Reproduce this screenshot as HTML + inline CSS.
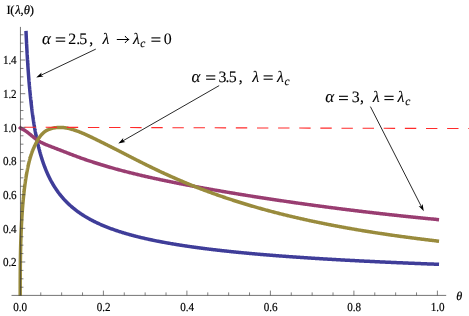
<!DOCTYPE html>
<html><head><meta charset="utf-8"><title>plot</title>
<style>
html,body{margin:0;padding:0;background:#fff;}
svg{display:block;will-change:transform;font-family:"Liberation Serif",serif;text-rendering:geometricPrecision;}
text{stroke:#000;stroke-width:inherit;}
svg{stroke-width:0.2px;}
.t{font-size:12.2px;fill:#000;letter-spacing:-0.15px;}
.i{font-style:italic;}
</style></head><body>
<svg width="469" height="316" viewBox="0 0 469 316">
<rect width="469" height="316" fill="#fff"/>
<clipPath id="cp"><rect x="11.5" y="26" width="436" height="269.75"/></clipPath>
<g fill="none" stroke-width="3.5" stroke-linejoin="round" stroke-linecap="square" clip-path="url(#cp)">
<path d="M26.06,32.60 L26.07,33.02 L26.09,33.44 L26.11,33.86 L26.13,34.28 L26.15,34.70 L26.17,35.12 L26.19,35.54 L26.21,35.96 L26.23,36.38 L26.25,36.80 L26.27,37.22 L26.29,37.63 L26.31,38.05 L26.33,38.47 L26.35,38.89 L26.37,39.31 L26.39,39.73 L26.41,40.15 L26.43,40.57 L26.45,40.99 L26.47,41.41 L26.49,41.83 L26.51,42.25 L26.53,42.67 L26.55,43.09 L26.57,43.51 L26.59,43.93 L26.62,44.35 L26.64,44.77 L26.66,45.19 L26.68,45.61 L26.70,46.03 L26.72,46.45 L26.75,46.86 L26.77,47.28 L26.79,47.70 L26.81,48.12 L26.84,48.54 L26.86,48.96 L26.88,49.38 L26.90,49.80 L26.93,50.22 L26.95,50.64 L26.97,51.06 L27.00,51.48 L27.02,51.90 L27.04,52.32 L27.07,52.74 L27.09,53.16 L27.12,53.58 L27.14,54.00 L27.16,54.42 L27.19,54.84 L27.21,55.26 L27.24,55.68 L27.26,56.09 L27.29,56.51 L27.31,56.93 L27.34,57.35 L27.36,57.77 L27.39,58.19 L27.41,58.61 L27.44,59.03 L27.46,59.45 L27.49,59.87 L27.52,60.29 L27.54,60.71 L27.57,61.13 L27.60,61.55 L27.62,61.97 L27.65,62.39 L27.68,62.81 L27.70,63.23 L27.73,63.65 L27.76,64.07 L27.78,64.49 L27.81,64.91 L27.84,65.32 L27.87,65.74 L27.90,66.16 L27.92,66.58 L27.95,67.00 L27.98,67.42 L28.01,67.84 L28.04,68.26 L28.07,68.68 L28.10,69.10 L28.13,69.52 L28.16,69.94 L28.19,70.36 L28.22,70.78 L28.25,71.20 L28.28,71.62 L28.31,72.04 L28.34,72.46 L28.37,72.88 L28.40,73.30 L28.43,73.72 L28.46,74.14 L28.49,74.55 L28.52,74.97 L28.56,75.39 L28.59,75.81 L28.62,76.23 L28.65,76.65 L28.68,77.07 L28.72,77.49 L28.75,77.91 L28.78,78.33 L28.82,78.75 L28.85,79.17 L28.88,79.59 L28.92,80.01 L28.95,80.43 L28.99,80.85 L29.02,81.27 L29.05,81.69 L29.09,82.11 L29.12,82.53 L29.16,82.95 L29.20,83.37 L29.23,83.78 L29.27,84.20 L29.30,84.62 L29.34,85.04 L29.38,85.46 L29.41,85.88 L29.45,86.30 L29.49,86.72 L29.52,87.14 L29.56,87.56 L29.60,87.98 L29.64,88.40 L29.68,88.82 L29.71,89.24 L29.75,89.66 L29.79,90.08 L29.83,90.50 L29.87,90.92 L29.91,91.34 L29.95,91.76 L29.99,92.18 L30.03,92.60 L30.07,93.02 L30.11,93.43 L30.16,93.85 L30.20,94.27 L30.24,94.69 L30.28,95.11 L30.32,95.53 L30.37,95.95 L30.41,96.37 L30.45,96.79 L30.50,97.21 L30.54,97.63 L30.58,98.05 L30.63,98.47 L30.67,98.89 L30.72,99.31 L30.76,99.73 L30.81,100.15 L30.85,100.57 L30.90,100.99 L30.95,101.41 L30.99,101.83 L31.04,102.25 L31.09,102.66 L31.13,103.08 L31.18,103.50 L31.23,103.92 L31.28,104.34 L31.33,104.76 L31.38,105.18 L31.43,105.60 L31.48,106.02 L31.53,106.44 L31.58,106.86 L31.63,107.28 L31.68,107.70 L31.73,108.12 L31.78,108.54 L31.83,108.96 L31.89,109.38 L31.94,109.80 L31.99,110.22 L32.05,110.64 L32.10,111.06 L32.15,111.48 L32.21,111.89 L32.26,112.31 L32.32,112.73 L32.38,113.15 L32.43,113.57 L32.49,113.99 L32.55,114.41 L32.60,114.83 L32.66,115.25 L32.72,115.67 L32.78,116.09 L32.84,116.51 L32.90,116.93 L32.96,117.35 L33.02,117.77 L33.08,118.19 L33.14,118.61 L33.20,119.03 L33.26,119.45 L33.32,119.87 L33.39,120.29 L33.45,120.71 L33.52,121.12 L33.58,121.54 L33.64,121.96 L33.71,122.38 L33.78,122.80 L33.84,123.22 L33.91,123.64 L33.98,124.06 L34.04,124.48 L34.11,124.90 L34.18,125.32 L34.25,125.74 L34.32,126.16 L34.39,126.58 L34.46,127.00 L34.53,127.42 L34.60,127.84 L34.68,128.26 L34.75,128.68 L34.82,129.10 L34.90,129.52 L34.97,129.94 L35.05,130.35 L35.12,130.77 L35.20,131.19 L35.28,131.61 L35.35,132.03 L35.43,132.45 L35.51,132.87 L35.59,133.29 L35.67,133.71 L35.75,134.13 L35.83,134.55 L35.91,134.97 L36.00,135.39 L36.08,135.81 L36.16,136.23 L36.25,136.65 L36.33,137.07 L36.42,137.49 L36.50,137.91 L36.59,138.33 L36.68,138.75 L36.77,139.17 L36.86,139.58 L36.95,140.00 L37.04,140.42 L37.13,140.84 L37.22,141.26 L37.31,141.68 L37.41,142.10 L37.50,142.52 L37.60,142.94 L37.69,143.36 L37.79,143.78 L37.89,144.20 L37.99,144.62 L38.09,145.04 L38.19,145.46 L38.29,145.88 L38.39,146.30 L38.49,146.72 L38.60,147.14 L38.70,147.56 L38.81,147.98 L38.91,148.40 L39.02,148.82 L39.13,149.23 L39.24,149.65 L39.35,150.07 L39.46,150.49 L39.57,150.91 L39.68,151.33 L39.80,151.75 L39.91,152.17 L40.03,152.59 L40.15,153.01 L40.26,153.43 L40.38,153.85 L40.50,154.27 L40.62,154.69 L40.75,155.11 L40.87,155.53 L41.00,155.95 L41.12,156.37 L41.25,156.79 L41.38,157.21 L41.50,157.63 L41.64,158.05 L41.77,158.46 L41.90,158.88 L42.03,159.30 L42.17,159.72 L42.31,160.14 L42.44,160.56 L42.58,160.98 L42.72,161.40 L42.86,161.82 L43.01,162.24 L43.15,162.66 L43.30,163.08 L43.44,163.50 L43.59,163.92 L43.74,164.34 L43.89,164.76 L44.05,165.18 L44.20,165.60 L44.36,166.02 L44.52,166.44 L44.67,166.86 L44.83,167.28 L45.00,167.69 L45.16,168.11 L45.33,168.53 L45.49,168.95 L45.66,169.37 L45.83,169.79 L46.00,170.21 L46.18,170.63 L46.35,171.05 L46.53,171.47 L46.71,171.89 L46.89,172.31 L47.07,172.73 L47.26,173.15 L47.45,173.57 L47.63,173.99 L47.82,174.41 L48.02,174.83 L48.21,175.25 L48.41,175.67 L48.61,176.09 L48.81,176.51 L49.01,176.92 L49.22,177.34 L49.42,177.76 L49.63,178.18 L49.85,178.60 L50.06,179.02 L50.28,179.44 L50.49,179.86 L50.72,180.28 L50.94,180.70 L51.17,181.12 L51.39,181.54 L51.63,181.96 L51.86,182.38 L52.10,182.80 L52.33,183.22 L52.58,183.64 L52.82,184.06 L53.07,184.48 L53.32,184.90 L53.57,185.32 L53.83,185.74 L54.09,186.15 L54.35,186.57 L54.61,186.99 L54.88,187.41 L55.15,187.83 L55.43,188.25 L55.70,188.67 L55.98,189.09 L56.27,189.51 L56.56,189.93 L56.85,190.35 L57.14,190.77 L57.44,191.19 L57.74,191.61 L58.05,192.03 L58.35,192.45 L58.67,192.87 L58.98,193.29 L59.31,193.71 L59.63,194.13 L59.96,194.55 L60.29,194.97 L60.63,195.38 L60.97,195.80 L61.32,196.22 L61.67,196.64 L62.02,197.06 L62.38,197.48 L62.74,197.90 L63.11,198.32 L63.48,198.74 L63.86,199.16 L64.25,199.58 L64.63,200.00 L65.26,200.66 L65.88,201.31 L66.50,201.94 L67.12,202.56 L67.75,203.17 L68.37,203.77 L68.99,204.36 L69.61,204.93 L70.23,205.50 L70.86,206.05 L71.48,206.59 L72.10,207.13 L72.72,207.65 L73.34,208.17 L73.97,208.67 L74.59,209.17 L75.21,209.66 L75.83,210.14 L76.46,210.61 L77.08,211.08 L77.70,211.54 L78.32,211.99 L78.94,212.43 L79.57,212.86 L80.19,213.29 L80.81,213.72 L81.43,214.13 L82.05,214.54 L82.68,214.95 L83.30,215.34 L83.92,215.74 L84.54,216.12 L85.17,216.50 L85.79,216.88 L86.41,217.25 L87.03,217.61 L87.65,217.97 L88.28,218.33 L88.90,218.68 L89.52,219.02 L90.14,219.36 L90.76,219.70 L91.39,220.03 L92.01,220.36 L92.63,220.68 L93.25,221.00 L93.88,221.31 L94.50,221.62 L95.12,221.93 L95.74,222.23 L96.36,222.53 L96.99,222.83 L97.61,223.12 L98.23,223.41 L98.85,223.69 L99.47,223.98 L100.10,224.26 L100.72,224.53 L101.34,224.80 L101.96,225.07 L102.59,225.34 L103.21,225.60 L103.83,225.86 L104.45,226.12 L105.07,226.37 L105.70,226.62 L106.32,226.87 L106.94,227.12 L107.56,227.36 L108.18,227.60 L108.81,227.84 L109.43,228.08 L110.05,228.31 L110.67,228.54 L111.30,228.77 L111.92,229.00 L112.54,229.22 L113.16,229.44 L113.78,229.66 L114.41,229.88 L115.03,230.10 L115.65,230.31 L116.27,230.52 L116.89,230.73 L117.52,230.94 L118.14,231.14 L118.76,231.34 L119.38,231.55 L120.01,231.75 L120.63,231.94 L121.25,232.14 L121.87,232.33 L122.49,232.52 L123.12,232.71 L123.74,232.90 L124.36,233.09 L124.98,233.28 L125.60,233.46 L126.23,233.64 L126.85,233.82 L127.47,234.00 L128.09,234.18 L128.72,234.35 L129.34,234.53 L129.96,234.70 L130.58,234.87 L131.20,235.04 L131.83,235.21 L132.45,235.38 L133.07,235.54 L133.69,235.71 L134.31,235.87 L134.94,236.03 L135.56,236.19 L136.18,236.35 L136.80,236.51 L137.43,236.66 L138.05,236.82 L138.67,236.97 L139.29,237.13 L139.91,237.28 L140.54,237.43 L141.16,237.58 L141.78,237.73 L142.40,237.87 L143.02,238.02 L143.65,238.16 L144.27,238.31 L144.89,238.45 L145.51,238.59 L146.14,238.73 L146.76,238.87 L147.38,239.01 L148.00,239.15 L148.62,239.28 L149.25,239.42 L149.87,239.55 L150.49,239.69 L151.11,239.82 L151.74,239.95 L152.36,240.08 L152.98,240.21 L153.60,240.34 L154.22,240.47 L154.85,240.60 L155.47,240.72 L156.09,240.85 L156.71,240.97 L157.33,241.10 L157.96,241.22 L158.58,241.34 L159.20,241.46 L159.82,241.58 L160.45,241.70 L161.07,241.82 L161.69,241.94 L162.31,242.05 L162.93,242.17 L163.56,242.29 L164.18,242.40 L164.80,242.52 L165.42,242.63 L166.04,242.74 L166.67,242.85 L167.29,242.97 L167.91,243.08 L168.53,243.19 L169.16,243.29 L169.78,243.40 L170.40,243.51 L171.02,243.62 L171.64,243.72 L172.27,243.83 L172.89,243.94 L173.51,244.04 L174.13,244.14 L174.75,244.25 L175.38,244.35 L176.00,244.45 L176.62,244.55 L177.24,244.65 L177.87,244.75 L178.49,244.85 L179.11,244.95 L179.73,245.05 L180.35,245.15 L180.98,245.25 L181.60,245.34 L182.22,245.44 L182.84,245.54 L183.46,245.63 L184.09,245.73 L184.71,245.82 L185.33,245.91 L185.95,246.01 L186.58,246.10 L187.20,246.19 L187.82,246.28 L188.44,246.37 L189.06,246.46 L189.69,246.55 L190.31,246.64 L190.93,246.73 L191.55,246.82 L192.17,246.91 L192.80,246.99 L193.42,247.08 L194.04,247.17 L194.66,247.25 L195.29,247.34 L195.91,247.43 L196.53,247.51 L197.15,247.59 L197.77,247.68 L198.40,247.76 L199.02,247.84 L199.64,247.93 L200.26,248.01 L200.88,248.09 L201.51,248.17 L202.13,248.25 L202.75,248.33 L203.37,248.41 L204.00,248.49 L204.62,248.57 L205.24,248.65 L205.86,248.73 L206.48,248.81 L207.11,248.88 L207.73,248.96 L208.35,249.04 L208.97,249.12 L209.59,249.19 L210.22,249.27 L210.84,249.34 L211.46,249.42 L212.08,249.49 L212.71,249.57 L213.33,249.64 L213.95,249.71 L214.57,249.79 L215.19,249.86 L215.82,249.93 L216.44,250.00 L217.06,250.08 L217.68,250.15 L218.30,250.22 L218.93,250.29 L219.55,250.36 L220.17,250.43 L220.79,250.50 L221.42,250.57 L222.04,250.64 L222.66,250.71 L223.28,250.78 L223.90,250.84 L224.53,250.91 L225.15,250.98 L225.77,251.05 L226.39,251.11 L227.01,251.18 L227.64,251.25 L228.26,251.31 L228.88,251.38 L229.50,251.44 L230.13,251.51 L230.75,251.57 L231.37,251.64 L231.99,251.70 L232.61,251.77 L233.24,251.83 L233.86,251.89 L234.48,251.96 L235.10,252.02 L235.72,252.08 L236.35,252.15 L236.97,252.21 L237.59,252.27 L238.21,252.33 L238.84,252.39 L239.46,252.45 L240.08,252.51 L240.70,252.57 L241.32,252.63 L241.95,252.69 L242.57,252.75 L243.19,252.81 L243.81,252.87 L244.43,252.93 L245.06,252.99 L245.68,253.05 L246.30,253.11 L246.92,253.17 L247.55,253.22 L248.17,253.28 L248.79,253.34 L249.41,253.40 L250.03,253.45 L250.66,253.51 L251.28,253.57 L251.90,253.62 L252.52,253.68 L253.14,253.73 L253.77,253.79 L254.39,253.84 L255.01,253.90 L255.63,253.95 L256.26,254.01 L256.88,254.06 L257.50,254.12 L258.12,254.17 L258.74,254.23 L259.37,254.28 L259.99,254.33 L260.61,254.39 L261.23,254.44 L261.85,254.49 L262.48,254.54 L263.10,254.60 L263.72,254.65 L264.34,254.70 L264.97,254.75 L265.59,254.80 L266.21,254.86 L266.83,254.91 L267.45,254.96 L268.08,255.01 L268.70,255.06 L269.32,255.11 L269.94,255.16 L270.56,255.21 L271.19,255.26 L271.81,255.31 L272.43,255.36 L273.05,255.41 L273.68,255.46 L274.30,255.51 L274.92,255.55 L275.54,255.60 L276.16,255.65 L276.79,255.70 L277.41,255.75 L278.03,255.80 L278.65,255.84 L279.27,255.89 L279.90,255.94 L280.52,255.99 L281.14,256.03 L281.76,256.08 L282.39,256.13 L283.01,256.17 L283.63,256.22 L284.25,256.27 L284.87,256.31 L285.50,256.36 L286.12,256.40 L286.74,256.45 L287.36,256.49 L287.98,256.54 L288.61,256.58 L289.23,256.63 L289.85,256.67 L290.47,256.72 L291.10,256.76 L291.72,256.81 L292.34,256.85 L292.96,256.90 L293.58,256.94 L294.21,256.98 L294.83,257.03 L295.45,257.07 L296.07,257.11 L296.70,257.16 L297.32,257.20 L297.94,257.24 L298.56,257.28 L299.18,257.33 L299.81,257.37 L300.43,257.41 L301.05,257.45 L301.67,257.50 L302.29,257.54 L302.92,257.58 L303.54,257.62 L304.16,257.66 L304.78,257.70 L305.41,257.74 L306.03,257.79 L306.65,257.83 L307.27,257.87 L307.89,257.91 L308.52,257.95 L309.14,257.99 L309.76,258.03 L310.38,258.07 L311.00,258.11 L311.63,258.15 L312.25,258.19 L312.87,258.23 L313.49,258.27 L314.12,258.31 L314.74,258.35 L315.36,258.38 L315.98,258.42 L316.60,258.46 L317.23,258.50 L317.85,258.54 L318.47,258.58 L319.09,258.62 L319.71,258.65 L320.34,258.69 L320.96,258.73 L321.58,258.77 L322.20,258.81 L322.83,258.84 L323.45,258.88 L324.07,258.92 L324.69,258.96 L325.31,258.99 L325.94,259.03 L326.56,259.07 L327.18,259.10 L327.80,259.14 L328.42,259.18 L329.05,259.21 L329.67,259.25 L330.29,259.29 L330.91,259.32 L331.54,259.36 L332.16,259.40 L332.78,259.43 L333.40,259.47 L334.02,259.50 L334.65,259.54 L335.27,259.57 L335.89,259.61 L336.51,259.64 L337.13,259.68 L337.76,259.71 L338.38,259.75 L339.00,259.78 L339.62,259.82 L340.25,259.85 L340.87,259.89 L341.49,259.92 L342.11,259.96 L342.73,259.99 L343.36,260.02 L343.98,260.06 L344.60,260.09 L345.22,260.13 L345.84,260.16 L346.47,260.19 L347.09,260.23 L347.71,260.26 L348.33,260.29 L348.96,260.33 L349.58,260.36 L350.20,260.39 L350.82,260.43 L351.44,260.46 L352.07,260.49 L352.69,260.52 L353.31,260.56 L353.93,260.59 L354.55,260.62 L355.18,260.65 L355.80,260.69 L356.42,260.72 L357.04,260.75 L357.67,260.78 L358.29,260.81 L358.91,260.85 L359.53,260.88 L360.15,260.91 L360.78,260.94 L361.40,260.97 L362.02,261.00 L362.64,261.04 L363.26,261.07 L363.89,261.10 L364.51,261.13 L365.13,261.16 L365.75,261.19 L366.38,261.22 L367.00,261.25 L367.62,261.28 L368.24,261.31 L368.86,261.34 L369.49,261.37 L370.11,261.40 L370.73,261.43 L371.35,261.46 L371.97,261.49 L372.60,261.52 L373.22,261.55 L373.84,261.58 L374.46,261.61 L375.09,261.64 L375.71,261.67 L376.33,261.70 L376.95,261.73 L377.57,261.76 L378.20,261.79 L378.82,261.82 L379.44,261.85 L380.06,261.88 L380.68,261.91 L381.31,261.93 L381.93,261.96 L382.55,261.99 L383.17,262.02 L383.80,262.05 L384.42,262.08 L385.04,262.11 L385.66,262.13 L386.28,262.16 L386.91,262.19 L387.53,262.22 L388.15,262.25 L388.77,262.28 L389.39,262.30 L390.02,262.33 L390.64,262.36 L391.26,262.39 L391.88,262.41 L392.51,262.44 L393.13,262.47 L393.75,262.50 L394.37,262.52 L394.99,262.55 L395.62,262.58 L396.24,262.61 L396.86,262.63 L397.48,262.66 L398.10,262.69 L398.73,262.71 L399.35,262.74 L399.97,262.77 L400.59,262.79 L401.22,262.82 L401.84,262.85 L402.46,262.87 L403.08,262.90 L403.70,262.93 L404.33,262.95 L404.95,262.98 L405.57,263.01 L406.19,263.03 L406.81,263.06 L407.44,263.08 L408.06,263.11 L408.68,263.14 L409.30,263.16 L409.93,263.19 L410.55,263.21 L411.17,263.24 L411.79,263.26 L412.41,263.29 L413.04,263.31 L413.66,263.34 L414.28,263.37 L414.90,263.39 L415.52,263.42 L416.15,263.44 L416.77,263.47 L417.39,263.49 L418.01,263.52 L418.64,263.54 L419.26,263.57 L419.88,263.59 L420.50,263.62 L421.12,263.64 L421.75,263.66 L422.37,263.69 L422.99,263.71 L423.61,263.74 L424.23,263.76 L424.86,263.79 L425.48,263.81 L426.10,263.84 L426.72,263.86 L427.35,263.88 L427.97,263.91 L428.59,263.93 L429.21,263.96 L429.83,263.98 L430.46,264.00 L431.08,264.03 L431.70,264.05 L432.32,264.07 L432.94,264.10 L433.57,264.12 L434.19,264.15 L434.81,264.17 L435.43,264.19 L436.06,264.22 L436.68,264.24 L437.30,264.26" stroke="#3f3d99"/>
<path d="M20.40,127.99 L20.40,127.99 L20.40,127.99 L20.40,127.99 L20.40,127.99 L20.41,128.00 L20.45,128.04 L20.49,128.07 L20.54,128.11 L20.58,128.14 L20.62,128.17 L20.66,128.20 L20.70,128.22 L20.75,128.25 L20.79,128.28 L20.83,128.30 L20.87,128.33 L20.91,128.35 L20.95,128.38 L21.00,128.40 L21.04,128.43 L21.08,128.45 L21.12,128.47 L21.16,128.49 L21.21,128.52 L21.25,128.54 L21.29,128.56 L21.33,128.58 L21.37,128.61 L21.42,128.63 L21.46,128.65 L21.50,128.67 L21.54,128.69 L21.58,128.71 L21.63,128.73 L21.67,128.75 L21.71,128.78 L21.75,128.80 L21.79,128.82 L21.84,128.84 L21.88,128.86 L21.92,128.88 L21.96,128.90 L22.00,128.92 L22.05,128.94 L22.09,128.96 L22.13,128.98 L22.17,129.00 L22.21,129.03 L22.26,129.05 L22.30,129.07 L22.34,129.09 L22.38,129.11 L22.42,129.13 L22.46,129.15 L22.51,129.17 L22.55,129.19 L22.59,129.21 L22.63,129.24 L22.67,129.26 L22.72,129.28 L22.76,129.30 L22.80,129.32 L22.84,129.34 L22.88,129.36 L22.93,129.39 L22.97,129.41 L23.01,129.43 L23.05,129.45 L23.09,129.47 L23.14,129.50 L23.18,129.52 L23.22,129.54 L23.26,129.56 L23.30,129.59 L23.35,129.61 L23.39,129.63 L23.43,129.65 L23.47,129.68 L23.51,129.70 L23.56,129.72 L23.60,129.74 L23.64,129.77 L23.68,129.79 L23.72,129.81 L23.76,129.84 L23.81,129.86 L23.85,129.88 L23.89,129.91 L23.93,129.93 L23.97,129.96 L24.02,129.98 L24.06,130.00 L24.10,130.03 L24.14,130.05 L24.18,130.08 L24.23,130.10 L24.27,130.12 L24.31,130.15 L24.35,130.17 L24.39,130.20 L24.44,130.22 L24.48,130.25 L24.52,130.27 L24.56,130.30 L24.60,130.32 L24.65,130.35 L24.69,130.37 L24.73,130.40 L24.77,130.43 L24.81,130.45 L24.86,130.48 L24.90,130.50 L24.94,130.53 L24.98,130.55 L25.02,130.58 L25.07,130.61 L25.11,130.64 L25.15,130.66 L25.19,130.69 L25.23,130.72 L25.27,130.74 L25.32,130.77 L25.36,130.80 L25.40,130.83 L25.44,130.85 L25.48,130.88 L25.53,130.91 L25.57,130.94 L25.61,130.96 L25.65,130.99 L25.69,131.02 L25.74,131.05 L25.78,131.08 L25.82,131.11 L25.86,131.13 L25.90,131.16 L25.95,131.19 L25.99,131.22 L26.03,131.25 L26.07,131.28 L26.11,131.31 L26.16,131.34 L26.20,131.37 L26.24,131.39 L26.28,131.42 L26.32,131.45 L26.37,131.48 L26.41,131.51 L26.45,131.54 L26.49,131.57 L26.53,131.60 L26.57,131.63 L26.62,131.66 L26.66,131.69 L26.70,131.72 L26.74,131.75 L26.78,131.78 L26.83,131.81 L26.87,131.84 L26.91,131.87 L26.95,131.91 L26.99,131.94 L27.04,131.97 L27.08,132.00 L27.12,132.03 L27.16,132.06 L27.20,132.09 L27.25,132.12 L27.29,132.15 L27.33,132.18 L27.37,132.22 L27.41,132.25 L27.46,132.28 L27.50,132.31 L27.54,132.34 L27.58,132.37 L27.62,132.41 L27.67,132.44 L27.71,132.47 L27.75,132.50 L27.79,132.53 L27.83,132.57 L27.87,132.60 L27.92,132.63 L27.96,132.66 L28.00,132.70 L28.04,132.73 L28.08,132.76 L28.13,132.79 L28.17,132.83 L28.21,132.86 L28.25,132.89 L28.29,132.92 L28.34,132.96 L28.38,132.99 L28.42,133.02 L28.46,133.06 L28.50,133.09 L28.55,133.12 L29.37,133.78 L30.18,134.45 L31.00,135.14 L31.82,135.82 L32.64,136.51 L33.46,137.19 L34.28,137.85 L35.10,138.49 L35.92,139.11 L36.74,139.71 L37.56,140.27 L38.38,140.80 L39.19,141.30 L40.01,141.77 L40.83,142.22 L41.65,142.64 L42.47,143.05 L43.29,143.44 L44.11,143.81 L44.93,144.17 L45.75,144.51 L46.57,144.85 L47.39,145.17 L48.21,145.50 L49.02,145.82 L49.84,146.13 L50.66,146.45 L51.48,146.77 L52.30,147.09 L53.12,147.41 L53.94,147.73 L54.76,148.05 L55.58,148.37 L56.40,148.68 L57.22,149.00 L58.04,149.31 L58.85,149.63 L59.67,149.95 L60.49,150.26 L61.31,150.58 L62.13,150.90 L62.95,151.21 L63.77,151.53 L64.59,151.85 L65.41,152.17 L66.23,152.48 L67.05,152.80 L67.87,153.11 L68.68,153.43 L69.50,153.74 L70.32,154.06 L71.14,154.37 L71.96,154.68 L72.78,155.00 L73.60,155.31 L74.42,155.61 L75.24,155.92 L76.06,156.23 L76.88,156.53 L77.69,156.84 L78.51,157.14 L79.33,157.44 L80.15,157.73 L80.97,158.03 L81.79,158.32 L82.61,158.61 L83.43,158.90 L84.25,159.19 L85.07,159.47 L85.89,159.76 L86.71,160.04 L87.52,160.32 L88.34,160.59 L89.16,160.87 L89.98,161.14 L90.80,161.41 L91.62,161.68 L92.44,161.95 L93.26,162.22 L94.08,162.48 L94.90,162.75 L95.72,163.01 L96.54,163.27 L97.35,163.53 L98.17,163.78 L98.99,164.04 L99.81,164.29 L100.63,164.54 L101.45,164.80 L102.27,165.04 L103.09,165.29 L103.91,165.54 L104.73,165.78 L105.55,166.02 L106.36,166.27 L107.18,166.51 L108.00,166.75 L108.82,166.98 L109.64,167.22 L110.46,167.45 L111.28,167.69 L112.10,167.92 L112.92,168.15 L113.74,168.38 L114.56,168.61 L115.38,168.83 L116.19,169.06 L117.01,169.28 L117.83,169.51 L118.65,169.73 L119.47,169.95 L120.29,170.17 L121.11,170.38 L121.93,170.60 L122.75,170.82 L123.57,171.03 L124.39,171.25 L125.21,171.46 L126.02,171.67 L126.84,171.88 L127.66,172.09 L128.48,172.30 L129.30,172.50 L130.12,172.71 L130.94,172.91 L131.76,173.12 L132.58,173.32 L133.40,173.52 L134.22,173.72 L135.04,173.92 L135.85,174.12 L136.67,174.32 L137.49,174.52 L138.31,174.71 L139.13,174.91 L139.95,175.10 L140.77,175.29 L141.59,175.49 L142.41,175.68 L143.23,175.87 L144.05,176.06 L144.86,176.25 L145.68,176.43 L146.50,176.62 L147.32,176.81 L148.14,176.99 L148.96,177.18 L149.78,177.36 L150.60,177.54 L151.42,177.73 L152.24,177.91 L153.06,178.09 L153.88,178.27 L154.69,178.45 L155.51,178.62 L156.33,178.80 L157.15,178.98 L157.97,179.15 L158.79,179.33 L159.61,179.50 L160.43,179.68 L161.25,179.85 L162.07,180.02 L162.89,180.20 L163.71,180.37 L164.52,180.54 L165.34,180.71 L166.16,180.88 L166.98,181.05 L167.80,181.21 L168.62,181.38 L169.44,181.55 L170.26,181.71 L171.08,181.88 L171.90,182.05 L172.72,182.21 L173.53,182.37 L174.35,182.54 L175.17,182.70 L175.99,182.86 L176.81,183.02 L177.63,183.19 L178.45,183.35 L179.27,183.51 L180.09,183.67 L180.91,183.83 L181.73,183.98 L182.55,184.14 L183.36,184.30 L184.18,184.46 L185.00,184.61 L185.82,184.77 L186.64,184.93 L187.46,185.08 L188.28,185.24 L189.10,185.39 L189.92,185.55 L190.74,185.70 L191.56,185.85 L192.38,186.01 L193.19,186.16 L194.01,186.31 L194.83,186.46 L195.65,186.61 L196.47,186.76 L197.29,186.92 L198.11,187.07 L198.93,187.22 L199.75,187.37 L200.57,187.51 L201.39,187.66 L202.21,187.81 L203.02,187.96 L203.84,188.11 L204.66,188.26 L205.48,188.40 L206.30,188.55 L207.12,188.70 L207.94,188.84 L208.76,188.99 L209.58,189.13 L210.40,189.28 L211.22,189.42 L212.03,189.57 L212.85,189.71 L213.67,189.86 L214.49,190.00 L215.31,190.14 L216.13,190.29 L216.95,190.43 L217.77,190.57 L218.59,190.71 L219.41,190.85 L220.23,191.00 L221.05,191.14 L221.86,191.28 L222.68,191.42 L223.50,191.56 L224.32,191.70 L225.14,191.84 L225.96,191.98 L226.78,192.11 L227.60,192.25 L228.42,192.39 L229.24,192.53 L230.06,192.67 L230.88,192.80 L231.69,192.94 L232.51,193.08 L233.33,193.21 L234.15,193.35 L234.97,193.49 L235.79,193.62 L236.61,193.76 L237.43,193.89 L238.25,194.03 L239.07,194.16 L239.89,194.29 L240.70,194.43 L241.52,194.56 L242.34,194.69 L243.16,194.83 L243.98,194.96 L244.80,195.09 L245.62,195.22 L246.44,195.36 L247.26,195.49 L248.08,195.62 L248.90,195.75 L249.72,195.88 L250.53,196.01 L251.35,196.14 L252.17,196.27 L252.99,196.40 L253.81,196.53 L254.63,196.66 L255.45,196.79 L256.27,196.92 L257.09,197.04 L257.91,197.17 L258.73,197.30 L259.55,197.43 L260.36,197.55 L261.18,197.68 L262.00,197.81 L262.82,197.93 L263.64,198.06 L264.46,198.19 L265.28,198.31 L266.10,198.44 L266.92,198.56 L267.74,198.69 L268.56,198.81 L269.38,198.94 L270.19,199.06 L271.01,199.18 L271.83,199.31 L272.65,199.43 L273.47,199.55 L274.29,199.68 L275.11,199.80 L275.93,199.92 L276.75,200.04 L277.57,200.17 L278.39,200.29 L279.20,200.41 L280.02,200.53 L280.84,200.65 L281.66,200.77 L282.48,200.89 L283.30,201.01 L284.12,201.13 L284.94,201.25 L285.76,201.37 L286.58,201.49 L287.40,201.61 L288.22,201.73 L289.03,201.85 L289.85,201.96 L290.67,202.08 L291.49,202.20 L292.31,202.32 L293.13,202.43 L293.95,202.55 L294.77,202.67 L295.59,202.78 L296.41,202.90 L297.23,203.02 L298.05,203.13 L298.86,203.25 L299.68,203.36 L300.50,203.48 L301.32,203.59 L302.14,203.71 L302.96,203.82 L303.78,203.93 L304.60,204.05 L305.42,204.16 L306.24,204.28 L307.06,204.39 L307.87,204.50 L308.69,204.61 L309.51,204.73 L310.33,204.84 L311.15,204.95 L311.97,205.06 L312.79,205.17 L313.61,205.29 L314.43,205.40 L315.25,205.51 L316.07,205.62 L316.89,205.73 L317.70,205.84 L318.52,205.95 L319.34,206.06 L320.16,206.17 L320.98,206.28 L321.80,206.39 L322.62,206.49 L323.44,206.60 L324.26,206.71 L325.08,206.82 L325.90,206.93 L326.72,207.03 L327.53,207.14 L328.35,207.25 L329.17,207.36 L329.99,207.46 L330.81,207.57 L331.63,207.68 L332.45,207.78 L333.27,207.89 L334.09,207.99 L334.91,208.10 L335.73,208.20 L336.55,208.31 L337.36,208.41 L338.18,208.52 L339.00,208.62 L339.82,208.73 L340.64,208.83 L341.46,208.93 L342.28,209.04 L343.10,209.14 L343.92,209.24 L344.74,209.34 L345.56,209.45 L346.37,209.55 L347.19,209.65 L348.01,209.75 L348.83,209.85 L349.65,209.96 L350.47,210.06 L351.29,210.16 L352.11,210.26 L352.93,210.36 L353.75,210.46 L354.57,210.56 L355.39,210.66 L356.20,210.76 L357.02,210.86 L357.84,210.96 L358.66,211.05 L359.48,211.15 L360.30,211.25 L361.12,211.35 L361.94,211.45 L362.76,211.55 L363.58,211.64 L364.40,211.74 L365.22,211.84 L366.03,211.93 L366.85,212.03 L367.67,212.13 L368.49,212.22 L369.31,212.32 L370.13,212.42 L370.95,212.51 L371.77,212.61 L372.59,212.70 L373.41,212.80 L374.23,212.89 L375.04,212.98 L375.86,213.08 L376.68,213.17 L377.50,213.27 L378.32,213.36 L379.14,213.45 L379.96,213.55 L380.78,213.64 L381.60,213.73 L382.42,213.82 L383.24,213.92 L384.06,214.01 L384.87,214.10 L385.69,214.19 L386.51,214.28 L387.33,214.37 L388.15,214.46 L388.97,214.55 L389.79,214.65 L390.61,214.74 L391.43,214.83 L392.25,214.91 L393.07,215.00 L393.89,215.09 L394.70,215.18 L395.52,215.27 L396.34,215.36 L397.16,215.45 L397.98,215.54 L398.80,215.62 L399.62,215.71 L400.44,215.80 L401.26,215.89 L402.08,215.97 L402.90,216.06 L403.72,216.15 L404.53,216.23 L405.35,216.32 L406.17,216.40 L406.99,216.49 L407.81,216.58 L408.63,216.66 L409.45,216.75 L410.27,216.83 L411.09,216.91 L411.91,217.00 L412.73,217.08 L413.54,217.17 L414.36,217.25 L415.18,217.33 L416.00,217.42 L416.82,217.50 L417.64,217.58 L418.46,217.66 L419.28,217.75 L420.10,217.83 L420.92,217.91 L421.74,217.99 L422.56,218.07 L423.37,218.15 L424.19,218.24 L425.01,218.32 L425.83,218.40 L426.65,218.48 L427.47,218.56 L428.29,218.64 L429.11,218.72 L429.93,218.79 L430.75,218.87 L431.57,218.95 L432.39,219.03 L433.20,219.11 L434.02,219.19 L434.84,219.26 L435.66,219.34 L436.48,219.42 L437.30,219.50" stroke="#993d71"/>
<path d="M20.20,295.70 L20.20,293.32 L20.20,291.70 L20.20,290.29 L20.20,288.98 L20.20,287.76 L20.21,286.60 L20.21,285.49 L20.21,284.42 L20.21,283.38 L20.21,282.37 L20.22,281.38 L20.22,280.42 L20.22,279.47 L20.23,278.55 L20.23,277.64 L20.24,276.75 L20.24,275.87 L20.25,275.00 L20.25,274.15 L20.26,273.31 L20.26,272.48 L20.27,271.66 L20.27,270.85 L20.28,270.04 L20.29,269.25 L20.29,268.46 L20.30,267.69 L20.31,266.92 L20.32,266.15 L20.33,265.40 L20.33,264.65 L20.34,263.90 L20.35,263.17 L20.36,262.44 L20.37,261.71 L20.38,260.99 L20.39,260.28 L20.40,259.57 L20.41,258.86 L20.42,258.16 L20.44,257.47 L20.45,256.78 L20.46,256.09 L20.47,255.41 L20.48,254.74 L20.50,254.06 L20.51,253.40 L20.52,252.73 L20.54,252.07 L20.55,251.41 L20.56,250.76 L20.58,250.11 L20.59,249.47 L20.61,248.82 L20.62,248.19 L20.64,247.55 L20.65,246.92 L20.67,246.29 L20.69,245.66 L20.70,245.04 L20.72,244.42 L20.74,243.81 L20.76,243.19 L20.77,242.58 L20.79,241.98 L20.81,241.37 L20.83,240.77 L20.85,240.17 L20.87,239.57 L20.89,238.98 L20.91,238.39 L20.93,237.80 L20.95,237.22 L20.97,236.63 L20.99,236.05 L21.01,235.48 L21.03,234.90 L21.05,234.33 L21.07,233.76 L21.10,233.19 L21.12,232.62 L21.14,232.06 L21.16,231.50 L21.19,230.94 L21.21,230.39 L21.24,229.83 L21.26,229.28 L21.28,228.73 L21.31,228.18 L21.33,227.64 L21.36,227.10 L21.39,226.56 L21.41,226.02 L21.44,225.48 L21.46,224.95 L21.49,224.41 L21.52,223.88 L21.54,223.36 L21.57,222.83 L21.60,222.31 L21.63,221.78 L21.66,221.26 L21.69,220.75 L21.71,220.23 L21.74,219.72 L21.77,219.20 L21.80,218.69 L21.83,218.18 L21.86,217.68 L21.89,217.17 L21.93,216.67 L21.96,216.17 L21.99,215.67 L22.02,215.18 L22.05,214.68 L22.08,214.19 L22.12,213.70 L22.15,213.21 L22.18,212.72 L22.22,212.23 L22.25,211.75 L22.28,211.27 L22.32,210.79 L22.35,210.31 L22.39,209.83 L22.42,209.35 L22.46,208.88 L22.49,208.41 L22.53,207.94 L22.57,207.47 L22.60,207.00 L22.64,206.54 L22.68,206.08 L22.71,205.61 L22.75,205.15 L22.79,204.70 L22.83,204.24 L22.87,203.79 L22.91,203.33 L22.94,202.88 L22.98,202.43 L23.02,201.98 L23.06,201.54 L23.10,201.09 L23.14,200.65 L23.18,200.21 L23.23,199.77 L23.27,199.33 L23.31,198.89 L23.35,198.46 L23.39,198.02 L23.44,197.59 L23.48,197.16 L23.52,196.73 L23.56,196.31 L23.61,195.88 L23.65,195.46 L23.70,195.04 L23.74,194.62 L23.78,194.20 L23.83,193.78 L23.87,193.36 L23.92,192.95 L23.97,192.54 L24.01,192.12 L24.06,191.71 L24.11,191.31 L24.15,190.90 L24.20,190.49 L24.25,190.09 L24.29,189.69 L24.34,189.29 L24.39,188.89 L24.44,188.49 L24.49,188.10 L24.54,187.70 L24.59,187.31 L24.64,186.92 L24.69,186.53 L24.74,186.14 L24.79,185.75 L24.84,185.37 L24.89,184.98 L24.94,184.60 L24.99,184.22 L25.04,183.84 L25.10,183.46 L25.15,183.09 L25.20,182.71 L25.26,182.34 L25.31,181.96 L25.36,181.59 L25.42,181.23 L25.47,180.86 L25.52,180.49 L25.58,180.13 L25.63,179.76 L25.69,179.40 L25.75,179.04 L25.80,178.68 L25.86,178.32 L25.91,177.97 L25.97,177.61 L26.03,177.26 L26.08,176.91 L26.14,176.56 L26.20,176.21 L26.26,175.86 L26.32,175.52 L26.38,175.17 L26.43,174.83 L26.49,174.49 L26.55,174.15 L26.61,173.81 L26.67,173.47 L26.73,173.13 L26.79,172.80 L26.85,172.47 L26.92,172.14 L26.98,171.81 L27.04,171.48 L27.10,171.15 L27.16,170.82 L27.23,170.50 L27.29,170.17 L27.35,169.85 L27.42,169.53 L27.48,169.21 L27.54,168.89 L27.61,168.58 L27.67,168.26 L27.74,167.95 L27.80,167.64 L27.87,167.33 L27.93,167.02 L28.00,166.71 L28.07,166.40 L28.13,166.10 L28.20,165.79 L28.27,165.49 L28.33,165.19 L28.40,164.89 L28.47,164.59 L28.54,164.29 L28.61,164.00 L28.67,163.70 L28.74,163.41 L28.81,163.12 L28.88,162.83 L28.95,162.54 L29.02,162.25 L29.09,161.96 L29.16,161.68 L29.23,161.40 L29.31,161.11 L29.38,160.83 L29.45,160.55 L29.52,160.27 L29.59,160.00 L29.67,159.72 L29.74,159.45 L29.81,159.17 L29.89,158.90 L29.96,158.63 L30.03,158.37 L30.11,158.11 L30.18,157.85 L30.26,157.60 L30.33,157.35 L30.41,157.10 L30.48,156.85 L30.56,156.60 L30.64,156.35 L30.71,156.10 L30.79,155.86 L30.87,155.61 L30.94,155.37 L31.02,155.13 L31.10,154.89 L31.18,154.65 L31.26,154.42 L31.34,154.18 L31.42,153.95 L31.49,153.71 L31.57,153.48 L31.65,153.25 L31.73,153.02 L31.81,152.80 L31.90,152.57 L31.98,152.34 L32.06,152.12 L32.14,151.90 L32.22,151.68 L32.30,151.46 L32.39,151.24 L32.47,151.02 L32.55,150.81 L32.64,150.59 L32.72,150.38 L33.53,148.41 L34.34,146.61 L35.15,144.94 L35.96,143.26 L36.77,141.70 L37.58,140.24 L38.39,138.89 L39.21,137.65 L40.02,136.51 L40.83,135.46 L41.64,134.52 L42.45,133.67 L43.26,132.91 L44.07,132.22 L44.88,131.60 L45.69,131.06 L46.50,130.57 L47.31,130.13 L48.12,129.75 L48.93,129.41 L49.75,129.10 L50.56,128.82 L51.37,128.57 L52.18,128.35 L52.99,128.16 L53.80,127.99 L54.61,127.84 L55.42,127.72 L56.23,127.62 L57.04,127.54 L57.85,127.48 L58.66,127.44 L59.47,127.42 L60.29,127.42 L61.10,127.44 L61.91,127.47 L62.72,127.53 L63.53,127.60 L64.34,127.69 L65.15,127.80 L65.96,127.92 L66.77,128.06 L67.58,128.22 L68.39,128.39 L69.20,128.58 L70.02,128.78 L70.83,128.99 L71.64,129.22 L72.45,129.45 L73.26,129.70 L74.07,129.96 L74.88,130.23 L75.69,130.51 L76.50,130.80 L77.31,131.10 L78.12,131.40 L78.93,131.72 L79.74,132.04 L80.56,132.37 L81.37,132.70 L82.18,133.03 L82.99,133.38 L83.80,133.73 L84.61,134.08 L85.42,134.44 L86.23,134.80 L87.04,135.17 L87.85,135.54 L88.66,135.92 L89.47,136.30 L90.28,136.68 L91.10,137.06 L91.91,137.45 L92.72,137.84 L93.53,138.23 L94.34,138.63 L95.15,139.02 L95.96,139.42 L96.77,139.81 L97.58,140.21 L98.39,140.61 L99.20,141.01 L100.01,141.41 L100.82,141.81 L101.64,142.21 L102.45,142.62 L103.26,143.02 L104.07,143.42 L104.88,143.83 L105.69,144.23 L106.50,144.64 L107.31,145.05 L108.12,145.45 L108.93,145.86 L109.74,146.27 L110.55,146.68 L111.37,147.09 L112.18,147.50 L112.99,147.91 L113.80,148.32 L114.61,148.74 L115.42,149.15 L116.23,149.56 L117.04,149.98 L117.85,150.39 L118.66,150.81 L119.47,151.22 L120.28,151.64 L121.09,152.05 L121.91,152.47 L122.72,152.89 L123.53,153.31 L124.34,153.73 L125.15,154.15 L125.96,154.56 L126.77,154.98 L127.58,155.40 L128.39,155.82 L129.20,156.23 L130.01,156.65 L130.82,157.06 L131.63,157.48 L132.45,157.89 L133.26,158.31 L134.07,158.72 L134.88,159.13 L135.69,159.54 L136.50,159.95 L137.31,160.36 L138.12,160.77 L138.93,161.18 L139.74,161.59 L140.55,162.00 L141.36,162.40 L142.17,162.81 L142.99,163.21 L143.80,163.62 L144.61,164.02 L145.42,164.42 L146.23,164.82 L147.04,165.22 L147.85,165.62 L148.66,166.02 L149.47,166.41 L150.28,166.81 L151.09,167.20 L151.90,167.60 L152.71,167.99 L153.53,168.38 L154.34,168.77 L155.15,169.16 L155.96,169.55 L156.77,169.93 L157.58,170.32 L158.39,170.70 L159.20,171.08 L160.01,171.46 L160.82,171.84 L161.63,172.22 L162.44,172.60 L163.26,172.97 L164.07,173.35 L164.88,173.72 L165.69,174.09 L166.50,174.46 L167.31,174.83 L168.12,175.20 L168.93,175.57 L169.74,175.93 L170.55,176.30 L171.36,176.66 L172.17,177.02 L172.98,177.38 L173.80,177.73 L174.61,178.09 L175.42,178.45 L176.23,178.80 L177.04,179.15 L177.85,179.50 L178.66,179.85 L179.47,180.20 L180.28,180.55 L181.09,180.89 L181.90,181.23 L182.71,181.58 L183.52,181.92 L184.34,182.26 L185.15,182.60 L185.96,182.93 L186.77,183.27 L187.58,183.60 L188.39,183.93 L189.20,184.27 L190.01,184.60 L190.82,184.92 L191.63,185.25 L192.44,185.58 L193.25,185.90 L194.06,186.22 L194.88,186.55 L195.69,186.87 L196.50,187.18 L197.31,187.50 L198.12,187.82 L198.93,188.13 L199.74,188.45 L200.55,188.76 L201.36,189.07 L202.17,189.38 L202.98,189.69 L203.79,190.00 L204.61,190.30 L205.42,190.61 L206.23,190.91 L207.04,191.21 L207.85,191.51 L208.66,191.81 L209.47,192.11 L210.28,192.41 L211.09,192.70 L211.90,193.00 L212.71,193.29 L213.52,193.58 L214.33,193.87 L215.15,194.16 L215.96,194.45 L216.77,194.73 L217.58,195.02 L218.39,195.30 L219.20,195.59 L220.01,195.87 L220.82,196.15 L221.63,196.43 L222.44,196.71 L223.25,196.98 L224.06,197.26 L224.87,197.53 L225.69,197.81 L226.50,198.08 L227.31,198.35 L228.12,198.62 L228.93,198.89 L229.74,199.16 L230.55,199.42 L231.36,199.69 L232.17,199.95 L232.98,200.22 L233.79,200.48 L234.60,200.74 L235.41,201.00 L236.23,201.26 L237.04,201.51 L237.85,201.77 L238.66,202.03 L239.47,202.28 L240.28,202.53 L241.09,202.79 L241.90,203.04 L242.71,203.29 L243.52,203.53 L244.33,203.78 L245.14,204.03 L245.96,204.27 L246.77,204.52 L247.58,204.76 L248.39,205.00 L249.20,205.25 L250.01,205.49 L250.82,205.73 L251.63,205.96 L252.44,206.20 L253.25,206.44 L254.06,206.67 L254.87,206.91 L255.68,207.14 L256.50,207.37 L257.31,207.60 L258.12,207.83 L258.93,208.06 L259.74,208.29 L260.55,208.52 L261.36,208.74 L262.17,208.97 L262.98,209.19 L263.79,209.42 L264.60,209.64 L265.41,209.86 L266.22,210.08 L267.04,210.30 L267.85,210.52 L268.66,210.73 L269.47,210.95 L270.28,211.17 L271.09,211.38 L271.90,211.60 L272.71,211.81 L273.52,212.02 L274.33,212.23 L275.14,212.44 L275.95,212.65 L276.76,212.86 L277.58,213.07 L278.39,213.27 L279.20,213.48 L280.01,213.69 L280.82,213.89 L281.63,214.09 L282.44,214.30 L283.25,214.50 L284.06,214.70 L284.87,214.90 L285.68,215.10 L286.49,215.29 L287.31,215.49 L288.12,215.69 L288.93,215.88 L289.74,216.08 L290.55,216.27 L291.36,216.47 L292.17,216.66 L292.98,216.85 L293.79,217.04 L294.60,217.23 L295.41,217.42 L296.22,217.61 L297.03,217.79 L297.85,217.98 L298.66,218.17 L299.47,218.35 L300.28,218.54 L301.09,218.72 L301.90,218.90 L302.71,219.08 L303.52,219.27 L304.33,219.45 L305.14,219.63 L305.95,219.81 L306.76,219.98 L307.57,220.16 L308.39,220.34 L309.20,220.51 L310.01,220.69 L310.82,220.86 L311.63,221.04 L312.44,221.21 L313.25,221.38 L314.06,221.55 L314.87,221.73 L315.68,221.90 L316.49,222.06 L317.30,222.23 L318.11,222.40 L318.93,222.57 L319.74,222.74 L320.55,222.90 L321.36,223.07 L322.17,223.23 L322.98,223.40 L323.79,223.56 L324.60,223.72 L325.41,223.88 L326.22,224.05 L327.03,224.21 L327.84,224.37 L328.66,224.52 L329.47,224.68 L330.28,224.84 L331.09,225.00 L331.90,225.16 L332.71,225.31 L333.52,225.47 L334.33,225.62 L335.14,225.78 L335.95,225.93 L336.76,226.08 L337.57,226.23 L338.38,226.39 L339.20,226.54 L340.01,226.69 L340.82,226.84 L341.63,226.99 L342.44,227.13 L343.25,227.28 L344.06,227.43 L344.87,227.58 L345.68,227.72 L346.49,227.87 L347.30,228.01 L348.11,228.16 L348.92,228.30 L349.74,228.44 L350.55,228.59 L351.36,228.73 L352.17,228.87 L352.98,229.01 L353.79,229.15 L354.60,229.29 L355.41,229.43 L356.22,229.57 L357.03,229.71 L357.84,229.85 L358.65,229.98 L359.46,230.12 L360.28,230.25 L361.09,230.39 L361.90,230.52 L362.71,230.66 L363.52,230.79 L364.33,230.93 L365.14,231.06 L365.95,231.19 L366.76,231.32 L367.57,231.45 L368.38,231.58 L369.19,231.71 L370.00,231.84 L370.82,231.97 L371.63,232.10 L372.44,232.23 L373.25,232.36 L374.06,232.48 L374.87,232.61 L375.68,232.73 L376.49,232.86 L377.30,232.98 L378.11,233.11 L378.92,233.23 L379.73,233.36 L380.55,233.48 L381.36,233.60 L382.17,233.72 L382.98,233.85 L383.79,233.97 L384.60,234.09 L385.41,234.21 L386.22,234.33 L387.03,234.45 L387.84,234.56 L388.65,234.68 L389.46,234.80 L390.27,234.92 L391.09,235.03 L391.90,235.15 L392.71,235.27 L393.52,235.38 L394.33,235.50 L395.14,235.61 L395.95,235.73 L396.76,235.84 L397.57,235.95 L398.38,236.06 L399.19,236.18 L400.00,236.29 L400.81,236.40 L401.63,236.51 L402.44,236.62 L403.25,236.73 L404.06,236.84 L404.87,236.95 L405.68,237.06 L406.49,237.17 L407.30,237.28 L408.11,237.38 L408.92,237.49 L409.73,237.60 L410.54,237.70 L411.35,237.81 L412.17,237.92 L412.98,238.02 L413.79,238.13 L414.60,238.23 L415.41,238.33 L416.22,238.44 L417.03,238.54 L417.84,238.64 L418.65,238.75 L419.46,238.85 L420.27,238.95 L421.08,239.05 L421.90,239.15 L422.71,239.25 L423.52,239.35 L424.33,239.45 L425.14,239.55 L425.95,239.65 L426.76,239.75 L427.57,239.85 L428.38,239.95 L429.19,240.04 L430.00,240.14 L430.81,240.24 L431.62,240.33 L432.44,240.43 L433.25,240.52 L434.06,240.62 L434.87,240.72 L435.68,240.81 L436.49,240.90 L437.30,241.00" stroke="#998b3d"/>
</g>
<line x1="20.5" y1="127.24" x2="469" y2="128.56" stroke="#ff2a2a" stroke-width="1.1" stroke-dasharray="11.4 9.73" stroke-dashoffset="17.1"/>
<g stroke="#3a3a3a" stroke-width="0.7" fill="none">
<line x1="11.5" y1="295.4" x2="446.2" y2="295.4"/>
<line x1="20.45" y1="26.9" x2="20.45" y2="295.4"/>
</g>
<g stroke="#3a3a3a" stroke-width="0.65" fill="none">
<line x1="40.77" y1="295.4" x2="40.77" y2="292.40"/>
<line x1="61.65" y1="295.4" x2="61.65" y2="292.40"/>
<line x1="82.53" y1="295.4" x2="82.53" y2="292.40"/>
<line x1="103.40" y1="295.4" x2="103.40" y2="290.60"/>
<line x1="124.28" y1="295.4" x2="124.28" y2="292.40"/>
<line x1="145.15" y1="295.4" x2="145.15" y2="292.40"/>
<line x1="166.03" y1="295.4" x2="166.03" y2="292.40"/>
<line x1="186.90" y1="295.4" x2="186.90" y2="290.60"/>
<line x1="207.78" y1="295.4" x2="207.78" y2="292.40"/>
<line x1="228.65" y1="295.4" x2="228.65" y2="292.40"/>
<line x1="249.53" y1="295.4" x2="249.53" y2="292.40"/>
<line x1="270.40" y1="295.4" x2="270.40" y2="290.60"/>
<line x1="291.27" y1="295.4" x2="291.27" y2="292.40"/>
<line x1="312.15" y1="295.4" x2="312.15" y2="292.40"/>
<line x1="333.02" y1="295.4" x2="333.02" y2="292.40"/>
<line x1="353.90" y1="295.4" x2="353.90" y2="290.60"/>
<line x1="374.77" y1="295.4" x2="374.77" y2="292.40"/>
<line x1="395.65" y1="295.4" x2="395.65" y2="292.40"/>
<line x1="416.52" y1="295.4" x2="416.52" y2="292.40"/>
<line x1="437.40" y1="295.4" x2="437.40" y2="290.60"/>
<line x1="20.45" y1="287.23" x2="23.45" y2="287.23"/>
<line x1="20.45" y1="278.82" x2="23.45" y2="278.82"/>
<line x1="20.45" y1="270.40" x2="23.45" y2="270.40"/>
<line x1="20.45" y1="261.99" x2="25.25" y2="261.99"/>
<line x1="20.45" y1="253.57" x2="23.45" y2="253.57"/>
<line x1="20.45" y1="245.16" x2="23.45" y2="245.16"/>
<line x1="20.45" y1="236.74" x2="23.45" y2="236.74"/>
<line x1="20.45" y1="228.33" x2="25.25" y2="228.33"/>
<line x1="20.45" y1="219.91" x2="23.45" y2="219.91"/>
<line x1="20.45" y1="211.50" x2="23.45" y2="211.50"/>
<line x1="20.45" y1="203.08" x2="23.45" y2="203.08"/>
<line x1="20.45" y1="194.67" x2="25.25" y2="194.67"/>
<line x1="20.45" y1="186.25" x2="23.45" y2="186.25"/>
<line x1="20.45" y1="177.84" x2="23.45" y2="177.84"/>
<line x1="20.45" y1="169.42" x2="23.45" y2="169.42"/>
<line x1="20.45" y1="161.01" x2="25.25" y2="161.01"/>
<line x1="20.45" y1="152.59" x2="23.45" y2="152.59"/>
<line x1="20.45" y1="144.18" x2="23.45" y2="144.18"/>
<line x1="20.45" y1="135.76" x2="23.45" y2="135.76"/>
<line x1="20.45" y1="127.35" x2="25.25" y2="127.35"/>
<line x1="20.45" y1="118.93" x2="23.45" y2="118.93"/>
<line x1="20.45" y1="110.52" x2="23.45" y2="110.52"/>
<line x1="20.45" y1="102.10" x2="23.45" y2="102.10"/>
<line x1="20.45" y1="93.69" x2="25.25" y2="93.69"/>
<line x1="20.45" y1="85.27" x2="23.45" y2="85.27"/>
<line x1="20.45" y1="76.86" x2="23.45" y2="76.86"/>
<line x1="20.45" y1="68.44" x2="23.45" y2="68.44"/>
<line x1="20.45" y1="60.03" x2="25.25" y2="60.03"/>
<line x1="20.45" y1="51.61" x2="23.45" y2="51.61"/>
<line x1="20.45" y1="43.20" x2="23.45" y2="43.20"/>
<line x1="20.45" y1="34.78" x2="23.45" y2="34.78"/>
</g>
<g class="t">
<text transform="translate(20.10,311.0) scale(0.91,1)" text-anchor="middle">0.0</text>
<text transform="translate(103.60,311.0) scale(0.91,1)" text-anchor="middle">0.2</text>
<text transform="translate(187.10,311.0) scale(0.91,1)" text-anchor="middle">0.4</text>
<text transform="translate(270.60,311.0) scale(0.91,1)" text-anchor="middle">0.6</text>
<text transform="translate(354.10,311.0) scale(0.91,1)" text-anchor="middle">0.8</text>
<text transform="translate(437.60,311.0) scale(0.91,1)" text-anchor="middle">1.0</text>
<text transform="translate(16.5,266.29) scale(0.91,1)" text-anchor="end">0.2</text>
<text transform="translate(16.5,232.63) scale(0.91,1)" text-anchor="end">0.4</text>
<text transform="translate(16.5,198.97) scale(0.91,1)" text-anchor="end">0.6</text>
<text transform="translate(16.5,165.31) scale(0.91,1)" text-anchor="end">0.8</text>
<text transform="translate(16.5,131.65) scale(0.91,1)" text-anchor="end">1.0</text>
<text transform="translate(16.5,97.99) scale(0.91,1)" text-anchor="end">1.2</text>
<text transform="translate(16.5,64.33) scale(0.91,1)" text-anchor="end">1.4</text>
</g>
<line x1="95.8" y1="49.1" x2="40.98" y2="75.22" stroke="#111" stroke-width="0.9"/><polygon points="36.20,77.50 41.57,72.50 40.98,75.22 43.47,76.47" fill="#000"/><line x1="219.2" y1="85.6" x2="122.90" y2="140.86" stroke="#111" stroke-width="0.9"/><polygon points="118.30,143.50 123.28,138.11 122.90,140.86 125.47,141.92" fill="#000"/><line x1="370.4" y1="106.6" x2="421.39" y2="206.58" stroke="#111" stroke-width="0.9"/><polygon points="423.80,211.30 418.66,206.06 421.39,206.58 422.58,204.06" fill="#000"/>
<g class="t" style="font-size:12.2px">
<text x="6.56" y="14.00" font-size="12.6">I</text><text x="10.18" y="14.00" font-size="12.6">(</text><text x="15.37" y="14.00" font-size="12.6" class="i">λ</text><text x="20.56" y="14.00" font-size="12.6">,</text><text x="23.87" y="14.00" font-size="12.6" class="i">θ</text><text x="29.82" y="14.00" font-size="12.6">)</text>
<text x="456.3" y="299.5" class="i">θ</text>
</g>
<g fill="#000" style="stroke-width:0.1px">
<text x="41.99" y="43.60" font-size="17.0" class="i">α</text>
<rect x="55.80" y="37.35" width="9.40" height="1.1"/><rect x="55.80" y="40.65" width="9.40" height="1.1"/>
<text x="68.28" y="43.60" font-size="15.9">2</text>
<text x="76.27" y="43.60" font-size="15.9">.</text>
<text x="79.13" y="43.60" font-size="15.9">5</text>
<text x="89.34" y="43.60" font-size="15.9">,</text>
<text x="102.40" y="43.60" font-size="15.9" class="i">λ</text>
<path d="M117.20,39.50 L128.80,39.50 M125.20,36.30 Q126.60,38.50 128.80,39.50 Q126.60,40.50 125.20,42.70" fill="none" stroke="#000" stroke-width="1.0" stroke-linecap="round"/>
<text x="133.00" y="43.60" font-size="15.9" class="i">λ</text>
<text x="140.25" y="46.70" font-size="11.5" class="i">c</text>
<rect x="151.40" y="37.35" width="9.00" height="1.1"/><rect x="151.40" y="40.65" width="9.00" height="1.1"/>
<text x="163.64" y="43.60" font-size="15.9">0</text>
<text x="191.49" y="81.60" font-size="17.0" class="i">α</text>
<rect x="206.10" y="75.35" width="9.20" height="1.1"/><rect x="206.10" y="78.65" width="9.20" height="1.1"/>
<text x="218.58" y="81.60" font-size="15.9">3</text>
<text x="225.47" y="81.60" font-size="15.9">.</text>
<text x="228.63" y="81.60" font-size="15.9">5</text>
<text x="238.84" y="81.60" font-size="15.9">,</text>
<text x="252.30" y="81.60" font-size="15.9" class="i">λ</text>
<rect x="263.60" y="75.35" width="9.10" height="1.1"/><rect x="263.60" y="78.65" width="9.10" height="1.1"/>
<text x="277.10" y="81.60" font-size="15.9" class="i">λ</text>
<text x="284.55" y="84.70" font-size="11.5" class="i">c</text>
<text x="325.29" y="102.00" font-size="17.0" class="i">α</text>
<rect x="339.00" y="95.75" width="8.90" height="1.1"/><rect x="339.00" y="99.05" width="8.90" height="1.1"/>
<text x="351.78" y="102.00" font-size="15.9">3</text>
<text x="359.94" y="102.00" font-size="15.9">,</text>
<text x="372.70" y="102.00" font-size="15.9" class="i">λ</text>
<rect x="384.40" y="95.75" width="9.20" height="1.1"/><rect x="384.40" y="99.05" width="9.20" height="1.1"/>
<text x="397.60" y="102.00" font-size="15.9" class="i">λ</text>
<text x="405.25" y="105.10" font-size="11.5" class="i">c</text>
</g>
</svg>
</body></html>
